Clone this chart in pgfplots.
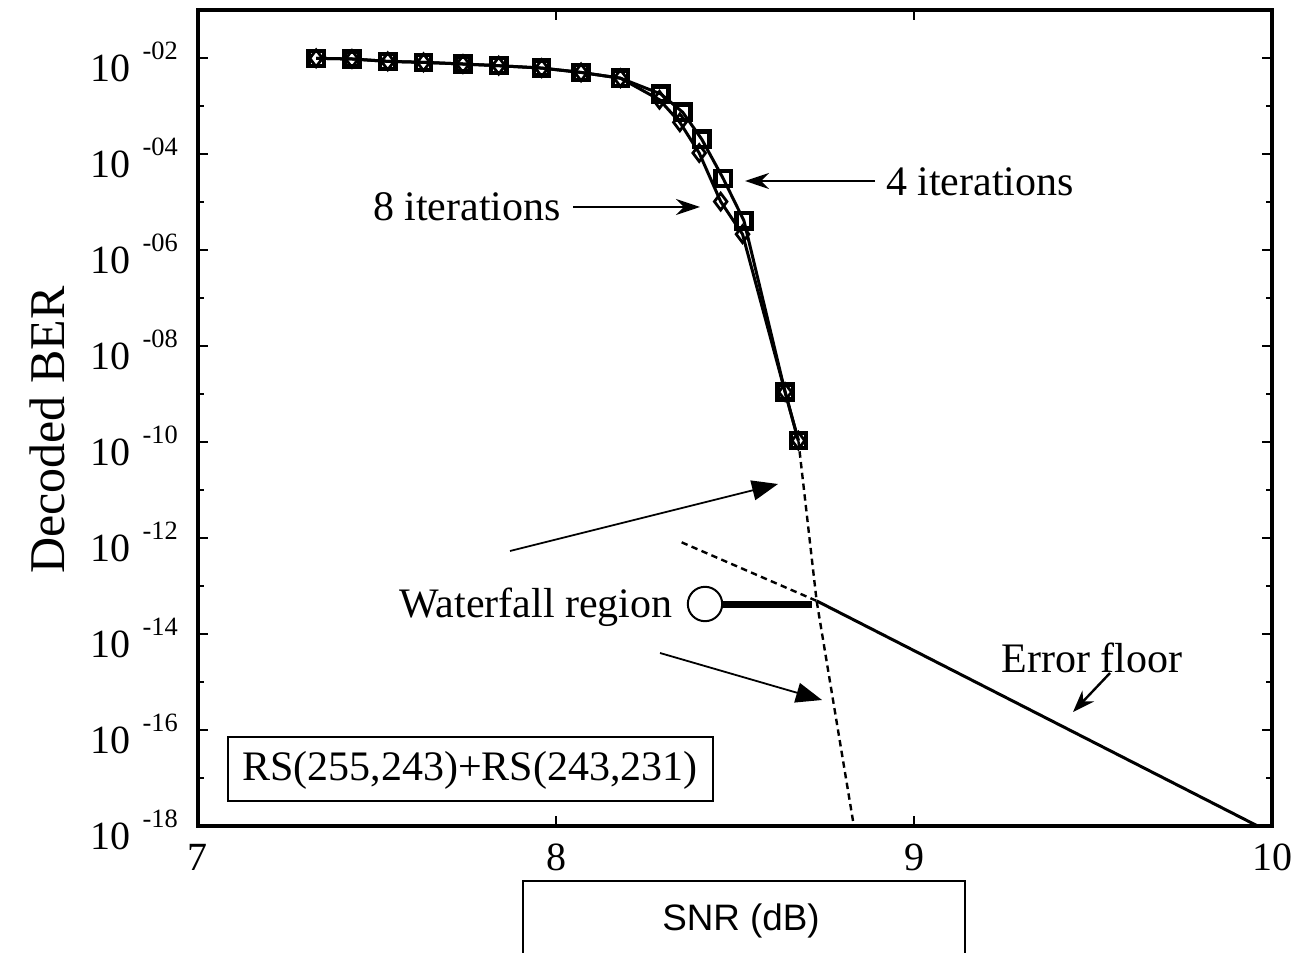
\documentclass[border=0pt]{standalone}
\usepackage{pgfplots}
\pgfplotsset{compat=1.18}
\usepackage{fontspec}
\setmainfont{Liberation Serif}
\newfontfamily\arialf{Liberation Sans}
\usetikzlibrary{arrows.meta}
\newcommand{\yl}[1]{10\hspace{3pt}\raisebox{5.6pt}{\fontsize{6.6}{7}\selectfont -#1}}
\begin{document}
\begin{tikzpicture}
\begin{axis}[name=ax, scale only axis, width=268.5pt, height=204pt,
  xmin=7, xmax=10, ymode=log, ymin=1e-18, ymax=1e-1,
  xtick={7,8,9,10}, xticklabels={7,8,9,10},
  ytick={1e-18,1e-16,1e-14,1e-12,1e-10,1e-8,1e-6,1e-4,1e-2},
  yticklabels={{\yl{18}},{\yl{16}},{\yl{14}},{\yl{12}},{\yl{10}},{\yl{08}},{\yl{06}},{\yl{04}},{\yl{02}}},
  minor ytick={1e-17,1e-15,1e-13,1e-11,1e-9,1e-7,1e-5,1e-3},
  tick align=inside, major tick length=2.6pt, minor tick length=1.6pt,
  axis line style={line width=0.9pt},
  every tick/.style={black, line width=0.7pt},
  tick label style={font=\fontsize{10}{12}\selectfont},
  xticklabel style={yshift=-1pt},
  yticklabel style={xshift=-1.5pt, yshift=-1pt},
  clip=false]
% 4 iterations
\addplot[black, line width=0.75pt, mark=square, mark size=1.9pt, mark options={solid, line width=1.1pt, fill=white}] coordinates {
(7.33,9.86e-3) (7.43,9.55e-3) (7.53,8.51e-3) (7.63,8.13e-3) (7.74,7.50e-3) (7.84,6.92e-3) (7.96,6.17e-3) (8.07,5.01e-3) (8.18,3.80e-3)
(8.293,1.78e-3) (8.354,7.41e-4) (8.407,2.04e-4) (8.467,3.09e-5) (8.525,4.07e-6) (8.640,1.10e-9) (8.677,1.07e-10)};
% 8 iterations
\addplot[black, line width=0.75pt, mark=diamond, mark size=2.1pt, mark options={solid, line width=0.7pt, fill=white}] coordinates {
(7.33,9.86e-3) (7.43,9.55e-3) (7.53,8.51e-3) (7.63,8.13e-3) (7.74,7.50e-3) (7.84,6.92e-3) (7.96,6.17e-3) (8.07,5.01e-3) (8.18,3.80e-3)
(8.289,1.35e-3) (8.346,4.57e-4) (8.400,1.05e-4) (8.460,1.02e-5) (8.521,2.14e-6) (8.640,1.10e-9) (8.677,1.07e-10)};
% waterfall extrapolation
\addplot[black, line width=0.6pt, dash pattern=on 1.6pt off 1.1pt] coordinates {
(8.677,1.07e-10) (8.728,4.90e-14) (8.832,1e-18)};
% error floor extension
\addplot[black, line width=0.6pt, dash pattern=on 1.6pt off 1.1pt] coordinates {
(8.351,8.13e-13) (8.728,4.90e-14)};
% error floor
\addplot[black, line width=0.75pt] coordinates {
(8.728,4.90e-14) (9.96,1e-18)};
\end{axis}
\coordinate (O) at ([xshift=-49.5pt,yshift=206.5pt]ax.south west);
\begin{scope}[shift={(O)}, x=0.25pt, y=-0.25pt]
\node[rotate=90, font=\fontsize{12.5}{14}\selectfont] at (47,430) {Decoded BER};
\node[font=\fontsize{10.5}{12}\selectfont] at (467,207) {8 iterations};
\draw[line width=0.6pt, -{Stealth[length=6pt,width=4pt]}] (573,207) -- (700,207);
\node[font=\fontsize{10.5}{12}\selectfont] at (980,182) {4 iterations};
\draw[line width=0.6pt, -{Stealth[length=6pt,width=4pt]}] (875,181) -- (745,181);
\draw[line width=0.45pt, -{Triangle[length=6.5pt,width=5pt]}] (510,551) -- (778,484);
\draw[line width=0.45pt, -{Triangle[length=6.5pt,width=5pt]}] (660,653) -- (822,700);
\node[font=\fontsize{10.5}{12}\selectfont] at (536,607) {Waterfall region};
\draw[line width=1.75pt] (720,604) -- (812,604);
\draw[line width=0.5pt, fill=white] (705,604) circle[radius=4.3pt];
\node[font=\fontsize{10.5}{12}\selectfont] at (1092,658) {Error floor};
\draw[line width=0.6pt, -{Stealth[length=5.5pt,width=4pt]}] (1110,673) -- (1073,712);
\draw[line width=0.6pt] (228,737) rectangle (713,801);
\node[font=\fontsize{10.5}{12}\selectfont] at (470,770) {RS(255,243)+RS(243,231)};
\draw[line width=0.5pt] (523,881) rectangle (965,970);
\node[font=\arialf\fontsize{9.2}{11}\selectfont] at (741,921) {SNR (dB)};
\end{scope}
\pgfresetboundingbox
\useasboundingbox ([xshift=-49.5pt,yshift=-31.5pt]ax.south west) rectangle ([xshift=275.75pt,yshift=206.5pt]ax.south west);
\end{tikzpicture}
\end{document}
